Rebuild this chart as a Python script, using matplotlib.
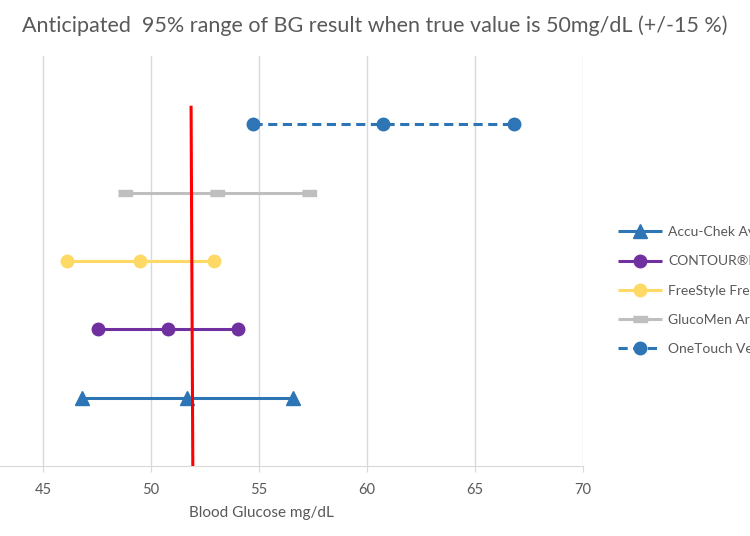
import matplotlib
matplotlib.use("Agg")
import matplotlib.pyplot as plt

# meters, bottom to top
meters = ["Accu-Chek Aviva", "CONTOUR®NEXT", "FreeStyle Freedom Lite",
          "GlucoMen Areo", "OneTouch Verio"]
low = [46.8, 47.55, 46.1, 48.8, 54.7]
mid = [51.65, 50.8, 49.5, 53.05, 60.75]
high = [56.55, 54.0, 52.9, 57.3, 66.8]
rows = [1, 2, 3, 4, 5]

# red reference line
ref_x = [51.85, 51.93]
ref_y = [5.25, 0]

colors = ["#2E75B6", "#7030A0", "#FFD966", "#BFBFBF", "#2E75B6"]
rect = [(-1, -0.5), (1, -0.5), (1, 0.5), (-1, 0.5)]
markers = ["^", "o", "o", rect, "o"]
msizes = [9.5, 9, 9, 10, 9]

txt = "#595959"
plt.rcParams["font.family"] = ["Lato", "DejaVu Sans"]

fig = plt.figure(figsize=(7.5, 5.36), dpi=100)
ax = fig.add_axes([0, 0.1306, 0.7773, 0.7649])

for i, name in enumerate(meters):
    ls = "--" if i == 4 else "-"
    line, = ax.plot([low[i], mid[i], high[i]], [rows[i]] * 3, ls, color=colors[i],
                    lw=2.2, marker=markers[i], ms=msizes[i], label=name,
                    solid_capstyle="butt")
    if i == 4:
        line.set_dashes((3, 1.8))

ax.plot(ref_x, ref_y, color="#FF0000", lw=2.2)

ax.set_xlim(43, 70)
ax.set_ylim(0, 6)
ax.set_xticks([45, 50, 55, 60, 65, 70])
ax.set_yticks([])
ax.grid(axis="x", color="#D9D9D9", lw=1)
ax.set_axisbelow(True)
for s in ["left", "right", "top"]:
    ax.spines[s].set_visible(False)
ax.spines["bottom"].set_color("#D9D9D9")
ax.tick_params(axis="x", colors="#D9D9D9", labelcolor=txt, labelsize=10.5,
               length=4, pad=8)

ax.set_xlabel("Blood Glucose mg/dL", color=txt, fontsize=11)
ax.xaxis.set_label_coords(0.448, -0.098)

fig.suptitle("Anticipated  95% range of BG result when true value is 50mg/dL (+/-15 %)",
             color=txt, fontsize=15.5, y=0.972)

handles, labels = ax.get_legend_handles_labels()
fig.legend(handles, labels, loc="center left", bbox_to_anchor=(0.824, 0.458),
           frameon=False, fontsize=10, labelcolor=txt, handlelength=3.2,
           handletextpad=0.4, labelspacing=1.23, borderpad=0, borderaxespad=0)

fig.savefig("out.png", dpi=100)
